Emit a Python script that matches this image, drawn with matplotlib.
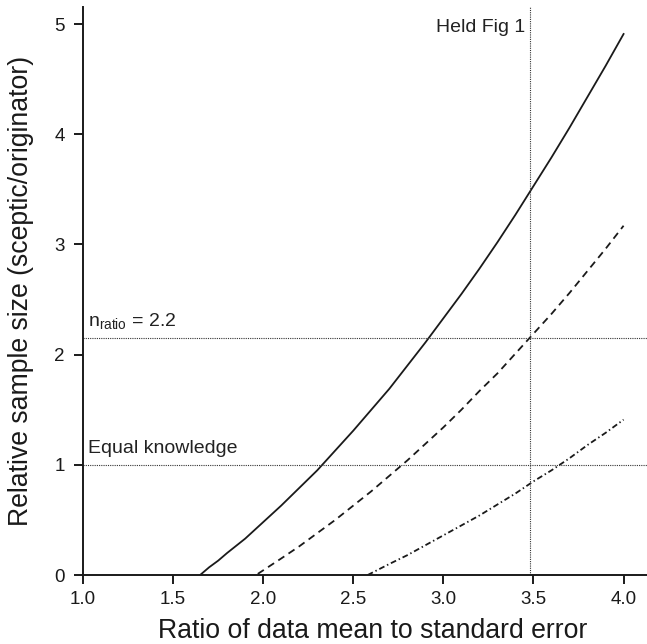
import matplotlib
matplotlib.use("Agg")
import matplotlib.pyplot as plt

plt.rcParams['font.family'] = ['Liberation Sans', 'DejaVu Sans']
plt.rcParams['mathtext.fontset'] = 'custom'
plt.rcParams['mathtext.rm'] = 'Liberation Sans'
plt.rcParams['mathtext.it'] = 'Liberation Sans:italic'

# values
x_solid = [1.65, 1.7, 1.75, 1.8, 1.9, 2.0, 2.1, 2.2, 2.3, 2.4, 2.5, 2.6, 2.7, 2.8, 2.9,
           3.0, 3.1, 3.2, 3.3, 3.4, 3.5, 3.6, 3.7, 3.8, 3.9, 4.0]
y_solid = [0.0, 0.07, 0.13, 0.20, 0.33, 0.48, 0.63, 0.79, 0.95, 1.13, 1.31, 1.50, 1.69,
           1.90, 2.11, 2.33, 2.55, 2.78, 3.02, 3.27, 3.53, 3.79, 4.06, 4.34, 4.62, 4.91]

x_dash = [1.97, 2.1, 2.2, 2.3, 2.4, 2.5, 2.6, 2.7, 2.8, 2.9, 3.0, 3.1, 3.2, 3.3,
          3.4, 3.5, 3.6, 3.7, 3.8, 3.9, 4.0]
y_dash = [0.01, 0.15, 0.26, 0.38, 0.50, 0.63, 0.76, 0.90, 1.04, 1.19, 1.34, 1.50,
          1.67, 1.83, 2.01, 2.19, 2.37, 2.56, 2.76, 2.96, 3.17]

x_dashdot = [2.58, 2.7, 2.8, 2.9, 3.0, 3.1, 3.2, 3.3, 3.4, 3.5, 3.6, 3.7, 3.8, 3.9, 4.0]
y_dashdot = [0.0, 0.10, 0.18, 0.27, 0.36, 0.45, 0.54, 0.64, 0.74, 0.85, 0.95, 1.06,
             1.18, 1.29, 1.41]

held_x = 3.48
n_ratio = 2.15
equal_k = 1.0

xticks = [1.0, 1.5, 2.0, 2.5, 3.0, 3.5, 4.0]
yticks = [0, 1, 2, 3, 4, 5]

fig = plt.figure(figsize=(6.47, 6.44), dpi=100)
ax = fig.add_axes([83 / 647, 69 / 644, 564 / 647, 568 / 644])

ax.plot(x_solid, y_solid, color='#1a1a1a', lw=1.3)
ax.plot(x_dash, y_dash, color='#1a1a1a', lw=1.3, linestyle=(0, (4, 2.8)))
ax.plot(x_dashdot, y_dashdot, color='#1a1a1a', lw=1.3, linestyle=(0, (3.2, 1.6, 0.8, 1.6)))

dot = (0, (1, 1))
ax.axvline(held_x, color='#333333', lw=0.8, linestyle=dot)
ax.axhline(n_ratio, color='#333333', lw=0.8, linestyle=dot)
ax.axhline(equal_k, color='#333333', lw=0.8, linestyle=dot)

ax.text(3.455, 4.93, 'Held Fig 1', fontsize=14, ha='right', va='baseline', color='#222222')
ax.text(1.03, 2.26, r'n$_{\mathrm{ratio}}$ = 2.2', fontsize=14, ha='left', va='baseline', color='#222222')
ax.text(1.03, 1.107, 'Equal knowledge', fontsize=14, ha='left', va='baseline', color='#222222')

ax.set_xlim(1.0, 4.13)
ax.set_ylim(0, 5.155)
ax.set_xticks(xticks)
ax.set_xticklabels(['%.1f' % v for v in xticks])
ax.set_yticks(yticks)

for s in ['top', 'right']:
    ax.spines[s].set_visible(False)
for s in ['left', 'bottom']:
    ax.spines[s].set_linewidth(1.4)
    ax.spines[s].set_color('#1a1a1a')

ax.tick_params(direction='out', length=6.5, width=1.4, labelsize=13.5, colors='#1a1a1a')
ax.tick_params(axis='x', pad=5)
ax.tick_params(axis='y', pad=6.5)
ax.set_xlabel('Ratio of data mean to standard error', fontsize=19.2, color='#1a1a1a')
ax.set_ylabel('Relative sample size (sceptic/originator)', fontsize=19.2, color='#1a1a1a')
ax.xaxis.set_label_coords(0.514, -0.075)
ax.yaxis.set_label_coords(-0.087, 0.5)

fig.savefig('out.png', dpi=100)
